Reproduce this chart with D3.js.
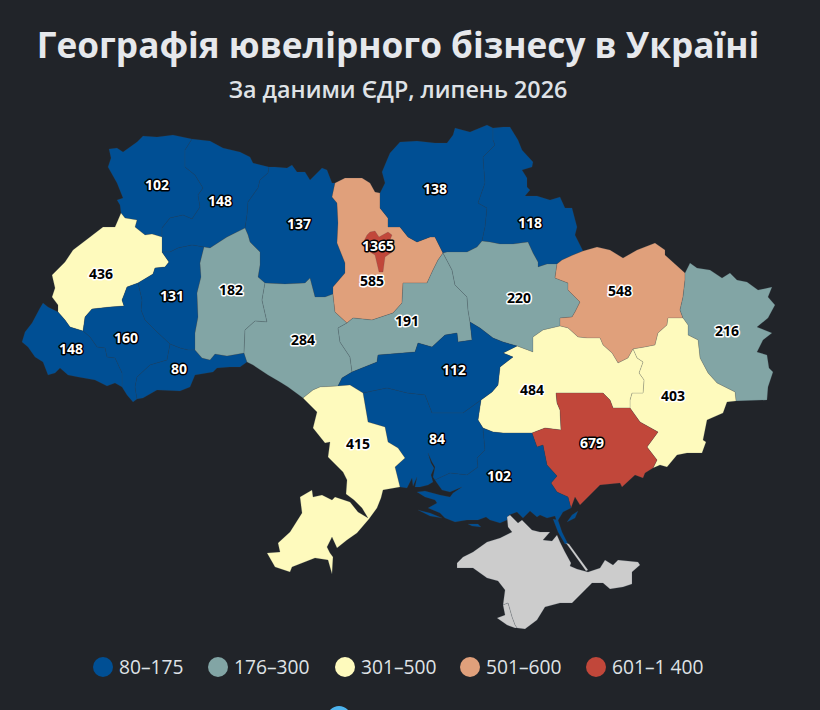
<!DOCTYPE html>
<html lang="uk">
<head>
<meta charset="utf-8">
<title>Географія ювелірного бізнесу в Україні</title>
<script src="https://cdn.jsdelivr.net/npm/d3@7"></script>
<style>
  html, body { margin: 0; background: #212429; overflow: hidden; }
  svg { display: block; font-family: "Open Sans", sans-serif; }
</style>
</head>
<body>
<svg width="820" height="710"></svg>
<script>
const titleText = "Географія ювелірного бізнесу в Україні";
const subtitleText = "За даними ЄДР, липень 2026";

const legendLabels = ["80–175", "176–300", "301–500", "501–600", "601–1 400"];
const legendColors = ["#004f94", "#82a5a5", "#fefabd", "#e0a07b", "#c1473a"];
const breaks = [176, 301, 501, 601];
const noDataColor = "#cccccc";

// traced border pieces in map units, shared between neighbours
const volynRivne = [[192,139],[185,150],[185,167],[195,175],[203,188],[198,195],[200,207],[192,219],[183,215],[170,218],[162,228],[162,237]];
const volynLviv = [[162,237],[152,234],[145,235],[135,227],[137,220],[125,218],[121,213]];
const volynOuter = [[121,213],[120,205],[117,200],[123,198],[117,183],[108,167],[111,158],[109,149],[117,148],[123,152],[137,142],[143,136],[157,137],[173,135],[192,139]];
const rivneOuter = [[192,139],[210,141],[223,148],[240,152],[250,157],[253,163],[269,167]];
const rivneZhy = [[269,167],[268,173],[260,180],[258,188],[248,202],[247,215],[245,228]];
const rivneKhm = [[245,228],[237,232],[227,237],[210,248],[204,247]];
const rivneTern = [[204,247],[192,245],[178,248],[170,252],[162,252]];
const rivneLviv = [[162,252],[162,237]];
const lvivTern = [[162,252],[169,262],[165,267],[155,268],[153,274],[138,283]];
const lvivIvano = [[138,283],[127,287],[124,295],[122,300],[124,306],[110,307],[92,309],[85,317],[83,331]];
const lvivZak = [[83,331],[70,327],[65,320],[58,312]];
const lvivOuter = [[58,312],[58,305],[52,297],[55,288],[52,275],[65,262],[73,250],[90,237],[103,227],[115,227],[121,213]];
const zakOuter = [[58,312],[48,307],[43,303],[40,308],[32,323],[25,332],[22,342],[28,347],[35,357],[43,362],[48,375],[55,373],[60,368],[68,375],[78,377],[95,380],[107,386],[115,383],[122,387]];
const zakIvano = [[122,387],[122,373],[115,358],[107,357],[105,348],[97,347],[90,337],[83,331]];
const ivanoOuter = [[122,387],[127,395],[133,402],[137,399]];
const ivanoChern = [[137,399],[135,387],[137,377],[150,365],[167,360],[170,344]];
const ternIvano = [[170,344],[157,332],[150,325],[145,320],[141,310],[142,300],[138,283]];
const ternChern = [[170,344],[180,348],[188,350],[195,350]];
const ternKhm = [[195,350],[195,333],[198,317],[197,293],[201,277],[200,263],[204,247]];
const chernKhm = [[195,350],[202,358],[210,360],[215,354],[227,356],[244,353]];
const chernVinn = [[244,353],[247,362]];
const chernOuter = [[247,362],[240,367],[230,367],[217,368],[213,372],[195,375],[190,387],[180,391],[157,390],[143,398],[137,399]];
const khmVinn = [[244,353],[245,330],[255,321],[267,322],[262,300],[265,283]];
const khmZhy = [[265,283],[258,277],[260,265],[260,252],[250,242],[248,235],[245,228]];
const zhyOuter = [[269,167],[275,167],[287,168],[292,165],[297,172],[305,172],[310,180],[322,168],[327,170],[332,183],[335,183]];
const zhyKyiv = [[335,183],[332,197],[337,203],[338,223],[337,243],[345,263],[345,273],[333,287],[333,294]];
const zhyVinn = [[333,294],[325,297],[315,297],[310,278],[305,283],[285,284],[265,283]];
const vinnKyiv = [[333,294],[335,312],[347,323]];
const vinnCherk = [[347,323],[338,328],[340,342],[350,357],[352,372]];
const vinnKirov = [[352,372],[342,378],[338,386]];
const vinnOdesa = [[338,386],[320,387],[313,390],[303,398]];
const vinnOuter = [[303,398],[288,387],[280,382],[268,375],[253,365],[247,362]];
const kyivCherk = [[347,323],[353,318],[372,320],[393,313],[402,303],[403,283],[427,283],[433,270],[438,260],[443,253]];
const kyivChnh = [[443,253],[435,237],[430,237],[417,242],[408,237],[400,227],[388,227],[388,218],[380,208],[380,193]];
const kyivOuter = [[380,193],[375,192],[370,183],[362,178],[345,178],[335,183]];
const chnhOuter = [[380,193],[385,183],[382,172],[387,160],[390,153],[400,142],[417,141],[435,143],[447,143],[453,135],[455,128],[470,132],[487,125],[493,128]];
const chnhSumy = [[493,128],[493,140],[495,145],[483,157],[485,183],[478,203],[487,208],[485,227],[482,241]];
const chnhPolt = [[482,241],[477,247],[467,252],[447,252],[443,253]];
const sumyOuter = [[493,128],[503,127],[510,127],[518,140],[522,150],[533,162],[532,167],[522,170],[527,178],[527,187],[530,190],[525,196],[537,196],[550,200],[560,197],[565,208],[572,208],[577,227],[575,235],[583,251]];
const sumyKhar = [[583,251],[573,255],[562,260],[557,264]];
const sumyPolt = [[557,264],[547,264],[538,267],[538,262],[533,253],[528,242],[513,244],[500,244],[490,242],[482,241]];
const kharOuter = [[583,251],[597,247],[610,250],[623,258],[637,250],[655,243],[665,250],[665,255],[685,273]];
const kharLuh = [[685,273],[685,280],[683,297],[680,310],[683,318]];
const kharDon = [[683,318],[668,318],[667,325],[658,333],[655,345],[645,347],[633,349]];
const kharDnip = [[633,349],[628,358],[618,363],[612,353],[603,345],[600,338],[587,338],[578,337],[568,328],[560,326]];
const kharPolt = [[560,326],[560,318],[572,317],[575,312],[580,302],[568,290],[568,283],[555,278],[557,264]];
const luhOuter = [[685,273],[690,263],[697,268],[710,270],[722,278],[730,273],[737,280],[747,282],[758,290],[772,287],[768,297],[775,305],[768,318],[757,327],[772,333],[763,340],[757,352],[767,355],[769,368],[773,372],[768,387],[767,400],[736,401]];
const luhDon = [[736,401],[735,392],[717,383],[708,373],[700,358],[698,340],[688,335],[688,325],[683,318]];
const donOuter = [[736,401],[727,402],[723,413],[707,420],[703,440],[706,442],[702,453],[687,453],[677,455],[667,467],[660,465],[653,468]];
const donZap = [[653,468],[657,460],[647,447],[658,432],[640,422],[630,408]];
const donDnip = [[630,408],[630,400],[632,393],[643,393],[644,380],[639,373],[643,362],[637,358],[633,349]];
const dnipZap = [[630,408],[613,408],[610,400],[603,393],[590,393],[577,393],[556,393],[557,403],[560,410],[561,430],[545,428],[532,433]];
const dnipKher = [[532,433],[503,433],[493,432],[483,428]];
const dnipMyk = [[483,428],[478,420],[481,400]];
const dnipKirov = [[481,400],[492,392],[498,385],[500,367],[513,357],[503,353],[517,346]];
const poltDnip = [[517,346],[533,352],[533,337],[543,330],[560,326]];
const poltKirov = [[517,346],[503,342],[493,338],[480,328],[470,322]];
const poltCherk = [[470,322],[468,310],[467,297],[455,285],[452,270],[443,253]];
const cherkKirov = [[470,322],[472,340],[458,342],[457,333],[445,335],[432,347],[418,343],[415,352],[378,355],[377,362],[352,372]];
const kirovOdesa = [[338,386],[350,385],[363,393]];
const kirovMyk = [[363,393],[387,388],[407,393],[425,395],[432,413],[447,413],[463,413],[481,400]];
const mykOdesa = [[363,393],[368,422],[385,427],[388,442],[398,448],[405,458],[395,467],[400,487]];
const mykKher = [[483,428],[485,450],[477,458],[478,467],[467,475],[450,473],[435,480]];
const mykCoast = [[400,487],[407,488],[412,478],[413,486],[417,477],[415,487],[420,487],[428,485],[433,482],[431,475],[434,468],[431,463],[428,453],[432,462],[435,467],[433,477],[435,480]];
const kherCoast = [[435,480],[437,483],[442,490],[450,492],[462,487],[453,493],[450,497],[440,495],[425,491],[417,492],[425,497],[435,500],[437,503],[428,508],[440,513],[445,518],[455,522],[467,520],[478,520],[486,517],[490,520],[500,523],[507,520],[509,515],[517,512],[523,518],[530,511],[537,517],[540,515],[547,518],[555,516],[557,522],[563,512],[571,508]];
const zapKher = [[532,433],[537,447],[543,445],[547,465],[557,476],[551,483],[557,492],[568,497],[571,508]];
const zapCoast = [[571,508],[575,497],[580,505],[600,485],[620,483],[622,487],[635,475],[643,478],[645,473],[653,468]];
const odesaOuter = [[400,487],[383,490],[381,498],[377,508],[369,519],[357,533],[347,540],[337,548],[332,537],[327,547],[330,553],[333,557],[332,574],[328,560],[315,558],[292,567],[290,572],[275,567],[267,553],[280,552],[278,543],[290,532],[302,513],[300,497],[312,490],[313,497],[322,495],[332,500],[335,497],[350,502],[358,512],[368,518],[362,508],[354,500],[346,494],[347,480],[343,472],[328,457],[330,442],[325,443],[313,428],[317,412],[303,398]];
const crimeaOuter = [[517,628],[525,629],[537,620],[545,607],[560,603],[572,603],[587,588],[592,583],[603,583],[610,589],[623,587],[632,584],[632,572],[640,565],[638,562],[618,560],[613,565],[605,560],[600,568],[588,572],[577,569],[570,566],[571,563],[565,552],[560,542],[557,535],[552,541],[543,540],[550,532],[540,532],[532,530],[522,520],[518,523],[510,515],[507,517],[508,527],[512,532],[500,538],[487,542],[473,552],[463,557],[457,563],[457,568],[473,568],[487,578],[498,581],[505,590],[503,605]];
const crimeaSev = [[503,605],[508,603],[510,610],[512,617],[515,625],[517,628]];
const sevOuter = [[517,628],[515,628],[507,625],[497,618],[505,615],[503,605]];
const arabatSpit = [[566,543],[569,544],[588,570],[586,571]];
const arabatNorth = [[553,519],[558,520],[562,532],[568,544],[565,544],[558,532]];
const henichSliver = [[567,522],[572,515],[578,511],[575,518]];
const kinburnSliver = [[418,510],[430,513],[442,518],[430,516]];
const tendraSliver = [[468,524],[478,524],[481,527],[472,526]];
const kyivCityRing = [[367,235],[370,232],[375,231],[379,237],[388,232],[392,235],[390,240],[392,252],[385,257],[383,272],[379,272],[375,255],[370,252],[363,243]];

const rev = a => a.slice().reverse();
const ring = (...parts) => parts.flatMap((p, i) => i ? p.slice(1) : p);

const regionNames = ["Волинська", "Рівненська", "Житомирська", "Львівська", "Тернопільська", "Івано-Франківська", "Закарпатська", "Чернівецька", "Хмельницька", "Вінницька", "Київська", "Черкаська", "Чернігівська", "Сумська", "Полтавська", "Харківська", "Луганська", "Донецька", "Дніпропетровська", "Запорізька", "Кіровоградська", "Миколаївська", "Херсонська", "Одеська", "м. Київ"];
const regionValues = [102, 148, 137, 436, 131, 160, 148, 80, 182, 284, 585, 191, 138, 118, 220, 548, 216, 403, 484, 679, 112, 84, 102, 415, 1365];
const regionRings = [
  [ring(volynRivne, volynLviv, volynOuter)],
  [ring(rivneOuter, rivneZhy, rivneKhm, rivneTern, rivneLviv, rev(volynRivne))],
  [ring(zhyOuter, zhyKyiv, zhyVinn, khmZhy, rev(rivneZhy))],
  [ring(rev(rivneLviv), lvivTern, lvivIvano, lvivZak, lvivOuter, rev(volynLviv))],
  [ring(rev(ternIvano), ternChern, ternKhm, rivneTern, lvivTern)],
  [ring(rev(zakIvano), ivanoOuter, ivanoChern, ternIvano, lvivIvano)],
  [ring(lvivZak, zakOuter, zakIvano)],
  [ring(chernKhm, chernVinn, chernOuter, ivanoChern, ternChern)],
  [ring(chernKhm, khmVinn, khmZhy, rivneKhm, rev(ternKhm))],
  [ring(rev(zhyVinn), vinnKyiv, vinnCherk, vinnKirov, vinnOdesa, vinnOuter, rev(chernVinn), khmVinn)],
  [ring(kyivCherk, kyivChnh, kyivOuter, zhyKyiv, vinnKyiv)],
  [ring(kyivCherk, rev(poltCherk), cherkKirov, rev(vinnCherk))],
  [ring(chnhOuter, chnhSumy, chnhPolt, kyivChnh)],
  [ring(sumyOuter, sumyKhar, sumyPolt, rev(chnhSumy))],
  [ring(poltDnip, kharPolt, sumyPolt, chnhPolt, rev(poltCherk), rev(poltKirov))],
  [ring(kharOuter, kharLuh, kharDon, kharDnip, kharPolt, rev(sumyKhar))],
  [ring(luhOuter, luhDon, rev(kharLuh))],
  [ring(luhDon, kharDon, rev(donDnip), rev(donZap), rev(donOuter))],
  [ring(poltDnip, rev(kharDnip), rev(donDnip), dnipZap, dnipKher, dnipMyk, dnipKirov)],
  [ring(dnipZap, zapKher, zapCoast, donZap)],
  [ring(rev(cherkKirov), rev(poltKirov), rev(dnipKirov), rev(kirovMyk), rev(kirovOdesa), rev(vinnKirov))],
  [ring(kirovMyk, rev(dnipMyk), mykKher, rev(mykCoast), rev(mykOdesa))],
  [ring(rev(dnipKher), zapKher, rev(kherCoast), rev(mykKher)), arabatNorth, henichSliver, kinburnSliver, tendraSliver],
  [ring(kirovOdesa, mykOdesa, odesaOuter, rev(vinnOdesa))],
  [kyivCityRing]
];
// where each number sits, in the same map units
const labelAnchors = [[157,185],[220,201],[299,224],[101,274],[172,296],[126,338],[71,349],[179,369],[231,290],[303,340],[372,281],[407,321],[435,189],[530,223],[519,298],[620,291],[727,331],[673,396],[532,390],[592,443],[454,370],[437,439],[499,476],[358,444],[378,246]];

const closeRing = r => r.concat([r[0]]);
const polygon = rings => ({
  type: "MultiPolygon",
  coordinates: rings.map(r => [closeRing(r)])
});

const features = regionNames.map((name, i) => ({
  type: "Feature",
  properties: { name, value: regionValues[i], anchor: labelAnchors[i] },
  geometry: polygon(regionRings[i])
}));
const crimea = [
  { type: "Feature", properties: { name: "АР Крим" }, geometry: polygon([ring(crimeaOuter, crimeaSev), arabatSpit]) },
  { type: "Feature", properties: { name: "м. Севастополь" }, geometry: polygon([ring(rev(crimeaSev), rev(sevOuter))]) }
];
const allFeatures = features.concat(crimea);

const svg = d3.select("svg");
const color = d3.scaleThreshold().domain(breaks).range(legendColors);

const projection = d3.geoIdentity().fitExtent([[22, 125], [775, 629]], { type: "FeatureCollection", features: allFeatures });
const path = d3.geoPath(projection);

svg.append("text")
  .attr("x", 398).attr("y", 58)
  .attr("text-anchor", "middle")
  .attr("font-size", 35.2).attr("font-weight", 700)
  .attr("fill", "#e6e8ec")
  .text(titleText);

svg.append("text")
  .attr("x", 398).attr("y", 98)
  .attr("text-anchor", "middle")
  .attr("font-size", 23.3).attr("font-weight", 600)
  .attr("fill", "#dfe2e6")
  .text(subtitleText);

svg.append("g").selectAll("path")
  .data(allFeatures)
  .join("path")
  .attr("d", path)
  .attr("fill", d => d.properties.value ? color(d.properties.value) : noDataColor)
  .attr("stroke", "#3c4650")
  .attr("stroke-opacity", 0.35)
  .attr("stroke-width", 0.5);

const isDark = v => v < 176 || v >= 601;
svg.append("g").selectAll("text")
  .data(features)
  .join("text")
  .attr("x", d => projection(d.properties.anchor)[0])
  .attr("y", d => projection(d.properties.anchor)[1])
  .attr("dy", "0.35em")
  .attr("text-anchor", "middle")
  .attr("font-size", 14).attr("font-weight", 700)
  .attr("fill", d => isDark(d.properties.value) ? "#fff" : "#000")
  .attr("stroke", d => isDark(d.properties.value) ? "#000" : "#fff")
  .attr("stroke-width", 3)
  .attr("stroke-linejoin", "round")
  .attr("paint-order", "stroke")
  .text(d => d.properties.value);

const legendOffsets = [103, 218, 345, 470, 596];
const legend = svg.append("g").selectAll("g")
  .data(legendLabels)
  .join("g")
  .attr("transform", (d, i) => `translate(${legendOffsets[i]},667)`);
legend.append("circle").attr("r", 10).attr("fill", (d, i) => legendColors[i]);
legend.append("text")
  .attr("x", 16).attr("dy", "0.35em")
  .attr("font-size", 19.2)
  .attr("fill", "#dfe2e6")
  .text(d => d);

svg.append("circle")
  .attr("cx", 339).attr("cy", 718).attr("r", 12)
  .attr("fill", "#4db4ee");
</script>
</body>
</html>
